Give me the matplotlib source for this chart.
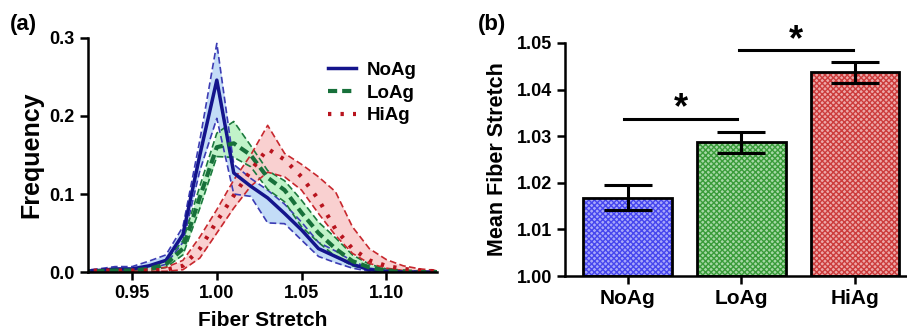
import numpy as np
import matplotlib.pyplot as plt

plt.rcParams['font.family'] = ['Liberation Sans', 'DejaVu Sans']
plt.rcParams['font.weight'] = 'bold'
plt.rcParams['axes.labelweight'] = 'bold'

# ---------------- (a) fiber stretch distributions ----------------
stretch = [0.92, 0.93, 0.94, 0.95, 0.96, 0.97, 0.98, 0.99, 1.00, 1.01, 1.02,
           1.03, 1.04, 1.05, 1.06, 1.07, 1.08, 1.09, 1.10, 1.11, 1.12, 1.13]

noag_mean = [0.001, 0.002, 0.004, 0.004, 0.008, 0.015, 0.048, 0.150, 0.246, 0.127, 0.110,
             0.095, 0.075, 0.054, 0.030, 0.020, 0.010, 0.003, 0.001, 0.000, 0.000, 0.000]
noag_up = [0.002, 0.004, 0.007, 0.007, 0.014, 0.022, 0.058, 0.169, 0.293, 0.138, 0.120,
           0.105, 0.087, 0.064, 0.038, 0.027, 0.014, 0.005, 0.002, 0.001, 0.000, 0.000]
noag_lo = [0.000, 0.001, 0.002, 0.002, 0.004, 0.010, 0.038, 0.130, 0.197, 0.100, 0.097,
           0.063, 0.062, 0.041, 0.020, 0.012, 0.005, 0.001, 0.000, 0.000, 0.000, 0.000]

loag_mean = [0.000, 0.001, 0.002, 0.002, 0.004, 0.010, 0.030, 0.096, 0.160, 0.165, 0.150,
             0.121, 0.105, 0.076, 0.050, 0.030, 0.014, 0.006, 0.002, 0.001, 0.000, 0.000]
loag_up = [0.001, 0.002, 0.003, 0.003, 0.006, 0.015, 0.040, 0.110, 0.178, 0.193, 0.162,
           0.130, 0.117, 0.092, 0.064, 0.044, 0.022, 0.010, 0.004, 0.002, 0.001, 0.000]
loag_lo = [0.000, 0.000, 0.001, 0.001, 0.002, 0.006, 0.022, 0.082, 0.148, 0.147, 0.135,
           0.106, 0.090, 0.058, 0.038, 0.020, 0.008, 0.003, 0.001, 0.000, 0.000, 0.000]

hiag_mean = [0.001, 0.002, 0.002, 0.002, 0.002, 0.003, 0.008, 0.030, 0.065, 0.098, 0.130,
             0.158, 0.144, 0.122, 0.093, 0.055, 0.030, 0.015, 0.008, 0.004, 0.002, 0.001]
hiag_up = [0.002, 0.003, 0.004, 0.004, 0.004, 0.006, 0.015, 0.045, 0.080, 0.118, 0.150,
           0.188, 0.152, 0.138, 0.122, 0.103, 0.058, 0.030, 0.016, 0.008, 0.004, 0.002]
hiag_lo = [0.000, 0.001, 0.001, 0.001, 0.001, 0.001, 0.003, 0.018, 0.050, 0.082, 0.110,
           0.128, 0.122, 0.105, 0.075, 0.047, 0.024, 0.011, 0.005, 0.002, 0.001, 0.000]

# ---------------- (b) mean fiber stretch ----------------
groups = ['NoAg', 'LoAg', 'HiAg']
mean_stretch = [1.0168, 1.0288, 1.0438]
err_up = [0.0027, 0.0022, 0.0021]
err_lo = [0.0027, 0.0025, 0.0024]

fig = plt.figure(figsize=(9.07, 3.33), dpi=100)
ax1 = fig.add_axes([0.097, 0.183, 0.385, 0.703])
ax2 = fig.add_axes([0.623, 0.171, 0.376, 0.700])

series = [
    ('NoAg', noag_mean, noag_up, noag_lo, '#14148c', '#3c3cb4', '#b9d6f6', '-'),
    ('LoAg', loag_mean, loag_up, loag_lo, '#17703a', '#1d7a3e', '#b6f2c0', '--'),
    ('HiAg', hiag_mean, hiag_up, hiag_lo, '#b8141e', '#c8282e', '#f9c8c8', ':'),
]
for name, m, up, lo, lc, bc, fc, ls in series:
    ax1.fill_between(stretch, lo, up, color=fc, lw=0, alpha=0.85)
for name, m, up, lo, lc, bc, fc, ls in series:
    ax1.plot(stretch, up, color=bc, lw=1.2, ls=(0, (4, 2)))
    ax1.plot(stretch, lo, color=bc, lw=1.2, ls=(0, (4, 2)))
for name, m, up, lo, lc, bc, fc, ls in series:
    if ls == '-':
        ax1.plot(stretch, m, color=lc, lw=2.5, label=name)
    elif ls == '--':
        ax1.plot(stretch, m, color=lc, lw=3, ls=(0, (2.2, 1.2)), label=name)
    else:
        ax1.plot(stretch, m, color=lc, lw=3, ls=(0, (0.8, 2.2)), label=name)

ax1.set_xlim(0.924, 1.13)
ax1.set_ylim(0, 0.3)
ax1.set_xticks([0.95, 1.00, 1.05, 1.10])
ax1.set_xticklabels(['0.95', '1.00', '1.05', '1.10'])
ax1.set_yticks([0.0, 0.1, 0.2, 0.3])
ax1.set_yticklabels(['0.0', '0.1', '0.2', '0.3'])
ax1.set_xlabel('Fiber Stretch', fontsize=15, labelpad=6)
ax1.set_ylabel('Frequency', fontsize=18, labelpad=4)
ax1.legend(loc='upper right', frameon=False, fontsize=13.5, handlelength=1.5,
           handletextpad=0.6, labelspacing=0.3, bbox_to_anchor=(0.99, 0.97))

# bars
x = np.arange(len(groups))
bar_fc = ['#a8a8fa', '#a6d8a6', '#eda8a8']
bar_hc = ['#4646ee', '#3a9c3a', '#cc3c3c']
for i in range(len(groups)):
    ax2.bar(x[i], mean_stretch[i] - 1.0, bottom=1.0, width=0.78, color=bar_fc[i],
            edgecolor=bar_hc[i], hatch='xxxxxx', lw=0)
ax2.bar(x, np.array(mean_stretch) - 1.0, bottom=1.0, width=0.78, fill=False,
        edgecolor='k', lw=2)
ax2.errorbar(x, mean_stretch, yerr=[err_lo, err_up], fmt='none', ecolor='k',
             elinewidth=2.2, capsize=17, capthick=2.2)

# significance brackets
ax2.plot([-0.03, 0.96], [1.0337, 1.0337], color='k', lw=2.2)
ax2.text(0.47, 1.0358, '*', ha='center', va='center', fontsize=26)
ax2.plot([0.98, 1.98], [1.0484, 1.0484], color='k', lw=2.2)
ax2.text(1.48, 1.0505, '*', ha='center', va='center', fontsize=26)

ax2.set_xlim(-0.55, 2.45)
ax2.set_ylim(1.0, 1.05)
ax2.set_xticks(x)
ax2.set_xticklabels(groups, fontsize=15)
ax2.set_yticks([1.00, 1.01, 1.02, 1.03, 1.04, 1.05])
ax2.set_yticklabels(['1.00', '1.01', '1.02', '1.03', '1.04', '1.05'])
ax2.set_ylabel('Mean Fiber Stretch', fontsize=15.5, labelpad=6)

for ax in (ax1, ax2):
    for s in ('top', 'right'):
        ax.spines[s].set_visible(False)
    for s in ('left', 'bottom'):
        ax.spines[s].set_linewidth(1.8)
    ax.tick_params(width=1.8, length=6, labelsize=13)
ax2.tick_params(axis='x', labelsize=15)
for t in ax2.texts:
    t.set_clip_on(False)

fig.text(0.011, 0.91, '(a)', fontsize=16, fontweight='bold')
fig.text(0.527, 0.91, '(b)', fontsize=16, fontweight='bold')

fig.savefig('out.png', dpi=100)
